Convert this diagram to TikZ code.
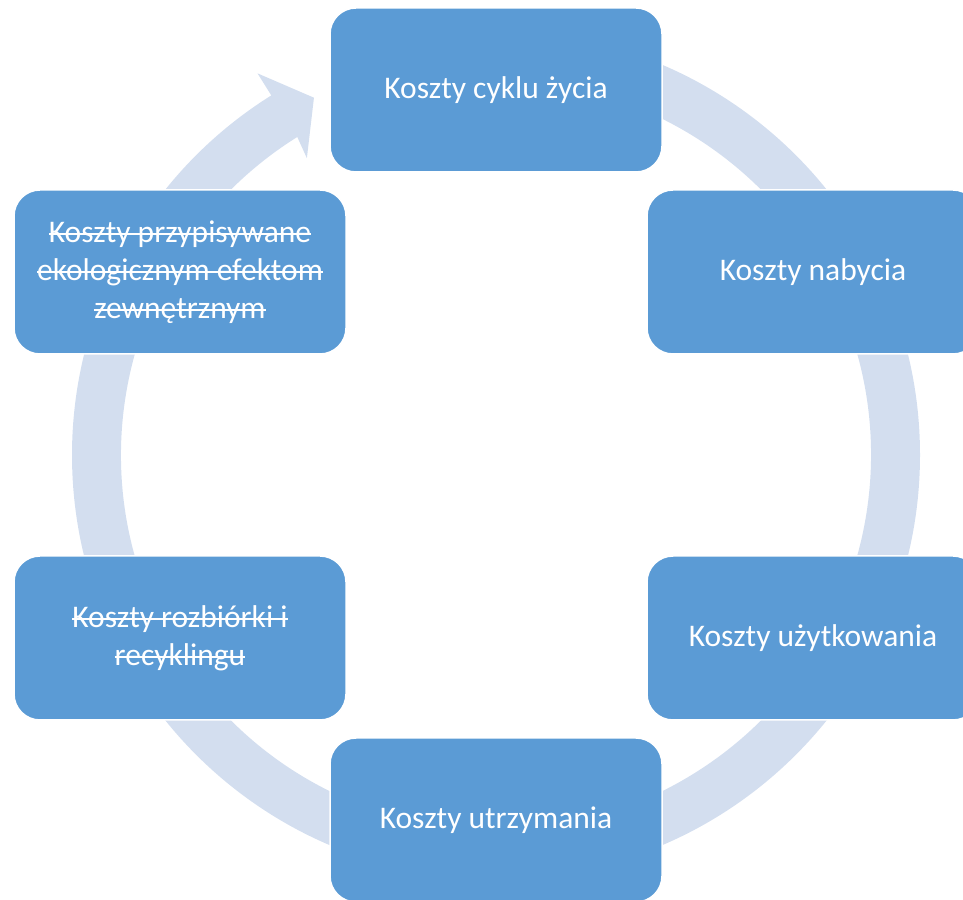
\documentclass[tikz,border=0pt]{standalone}
\usepackage{fontspec}
\setmainfont{Carlito}
\newcommand\mystrike[1]{\leavevmode\setbox0\hbox{#1}\rlap{\raise0.55ex\hbox{\vrule width\wd0 height 0.8pt depth 0.8pt}}\box0}
\definecolor{boxblue}{RGB}{91,155,213}
\definecolor{ringblue}{RGB}{211,222,239}
\begin{document}
\begin{tikzpicture}[x=1pt,y=1pt,
  costbox/.style={fill=boxblue, draw=white, line width=1.5pt, rounded corners=26pt,
    minimum width=332pt, minimum height=164pt, text=white,
    font=\fontsize{31.5}{38}\selectfont, align=center, inner sep=0pt}]
\clip (0,0) rectangle (963,899);
\coordinate (c) at (496,444);
% ring with arrowhead
\fill[ringblue] ([shift={(90:424)}]c) arc[start angle=90,end angle=-238,radius=424]
  -- ([shift={(122:450)}]c) -- ([shift={(117:401)}]c) -- ([shift={(122.5:352)}]c)
  -- ([shift={(122:375)}]c) arc[start angle=-238,end angle=90,radius=375] -- cycle;
% boxes
\node[costbox] (top) at (496,809) {Koszty cyklu życia};
\node[costbox] (nab) at (813,627) {Koszty nabycia};
\node[costbox] (uzy) at (813,261) {Koszty użytkowania};
\node[costbox] (utr) at (496,79) {Koszty utrzymania};
\node[costbox] (roz) at (180,261) {\mystrike{Koszty rozbiórki i}\\\mystrike{recyklingu}};
\node[costbox] (eko) at (180,627) {\mystrike{Koszty przypisywane}\\\mystrike{ekologicznym efektom}\\\mystrike{zewnętrznym}};
\end{tikzpicture}
\end{document}
